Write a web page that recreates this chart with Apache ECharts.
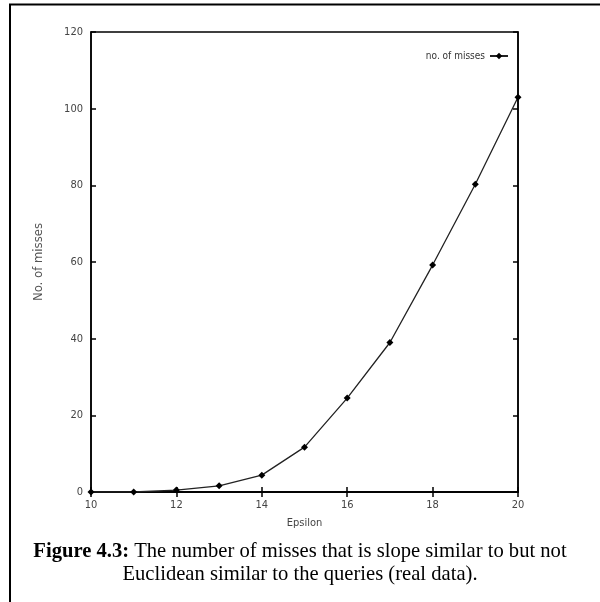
<!DOCTYPE html>
<html>
<head>
<meta charset="utf-8">
<script src="https://cdn.jsdelivr.net/npm/echarts@6/dist/echarts.min.js"></script>
<style>html,body{margin:0;padding:0;background:#fff;}#c{width:600px;height:602px;}</style>
</head>
<body>
<div id="c"></div>
<script>
const epsilon = [10, 11, 12, 13, 14, 15, 16, 17, 18, 19, 20];
const misses = [0, 0, 0.5, 1.6, 4.4, 11.7, 24.5, 39, 59.2, 80.3, 103];
const seriesName = 'no. of misses';
const xName = 'Epsilon';
const yName = 'No. of misses';
const captionBold = 'Figure 4.3:';
const captionLine1 = ' The number of misses that is slope similar to but not';
const captionLine2 = 'Euclidean similar to the queries (real data).';

const chart = echarts.init(document.getElementById('c'), null, {renderer: 'canvas'});
const sansNarrow = '"Liberation Sans Narrow", "DejaVu Sans Condensed", sans-serif';
const lblFont = {color: '#444', fontSize: 11, fontFamily: sansNarrow};
const lineStyle = {color: '#000', width: 1.5};
const serif = '"Liberation Serif", "Times New Roman", serif';
chart.setOption({
  animation: false,
  backgroundColor: '#fff',
  grid: {left: 91, right: 82, top: 32, bottom: 110, show: true, borderColor: '#000', borderWidth: 1.5},
  legend: {
    data: [seriesName], right: 86, top: 46, align: 'right', itemWidth: 18, itemHeight: 8,
    itemGap: 4,
    textStyle: {color: '#333', fontSize: 10, fontFamily: sansNarrow, padding: [0, 0, 0, 0]}
  },
  xAxis: [{
    type: 'value', min: 10, max: 20, interval: 2,
    name: xName, nameLocation: 'middle', nameGap: 26,
    nameTextStyle: lblFont,
    axisLine: {show: true, lineStyle: lineStyle},
    axisTick: {show: true, inside: true, length: 5, lineStyle: lineStyle},
    axisLabel: Object.assign({margin: 8}, lblFont),
    splitLine: {show: false}
  }, {
    type: 'value', min: 10, max: 20, interval: 2, position: 'top',
    axisLine: {show: true, lineStyle: lineStyle},
    axisTick: {show: true, inside: true, length: 5, lineStyle: lineStyle},
    axisLabel: {show: false}, splitLine: {show: false}
  }],
  yAxis: [{
    type: 'value', min: 0, max: 120, interval: 20,
    name: yName, nameLocation: 'middle', nameGap: 46,
    nameTextStyle: {color: '#555', fontSize: 13, fontFamily: sansNarrow},
    axisLine: {show: true, lineStyle: lineStyle},
    axisTick: {show: true, inside: true, length: 5, lineStyle: lineStyle},
    axisLabel: Object.assign({margin: 8}, lblFont),
    splitLine: {show: false}
  }, {
    type: 'value', min: 0, max: 120, interval: 20, position: 'right',
    axisLine: {show: true, lineStyle: lineStyle},
    axisTick: {show: true, inside: true, length: 5, lineStyle: lineStyle},
    axisLabel: {show: false}, splitLine: {show: false}
  }],
  series: [{
    name: seriesName, type: 'line',
    data: epsilon.map((x, i) => [x, misses[i]]),
    symbol: 'diamond', symbolSize: 7,
    lineStyle: {color: '#222', width: 1.3},
    itemStyle: {color: '#000'}
  }],
  graphic: [{
    type: 'polyline', silent: true,
    shape: {points: [[10, 602], [10, 4.5], [600, 4.5]]},
    style: {stroke: '#000', lineWidth: 2, fill: null}
  }, {
    type: 'text', x: 300, y: 552, silent: true,
    style: {
      text: '{b|' + captionBold + '}{n|' + captionLine1 + '}',
      align: 'center', verticalAlign: 'middle',
      fill: '#000',
      rich: {
        b: {fontWeight: 'bold', fontSize: 20.6, fontFamily: serif, fill: '#000'},
        n: {fontSize: 20.6, fontFamily: serif, fill: '#000'}
      }
    }
  }, {
    type: 'text', x: 300, y: 575, silent: true,
    style: {
      text: captionLine2,
      align: 'center', verticalAlign: 'middle',
      font: '20.6px ' + serif,
      fill: '#000'
    }
  }]
});
</script>
</body>
</html>
